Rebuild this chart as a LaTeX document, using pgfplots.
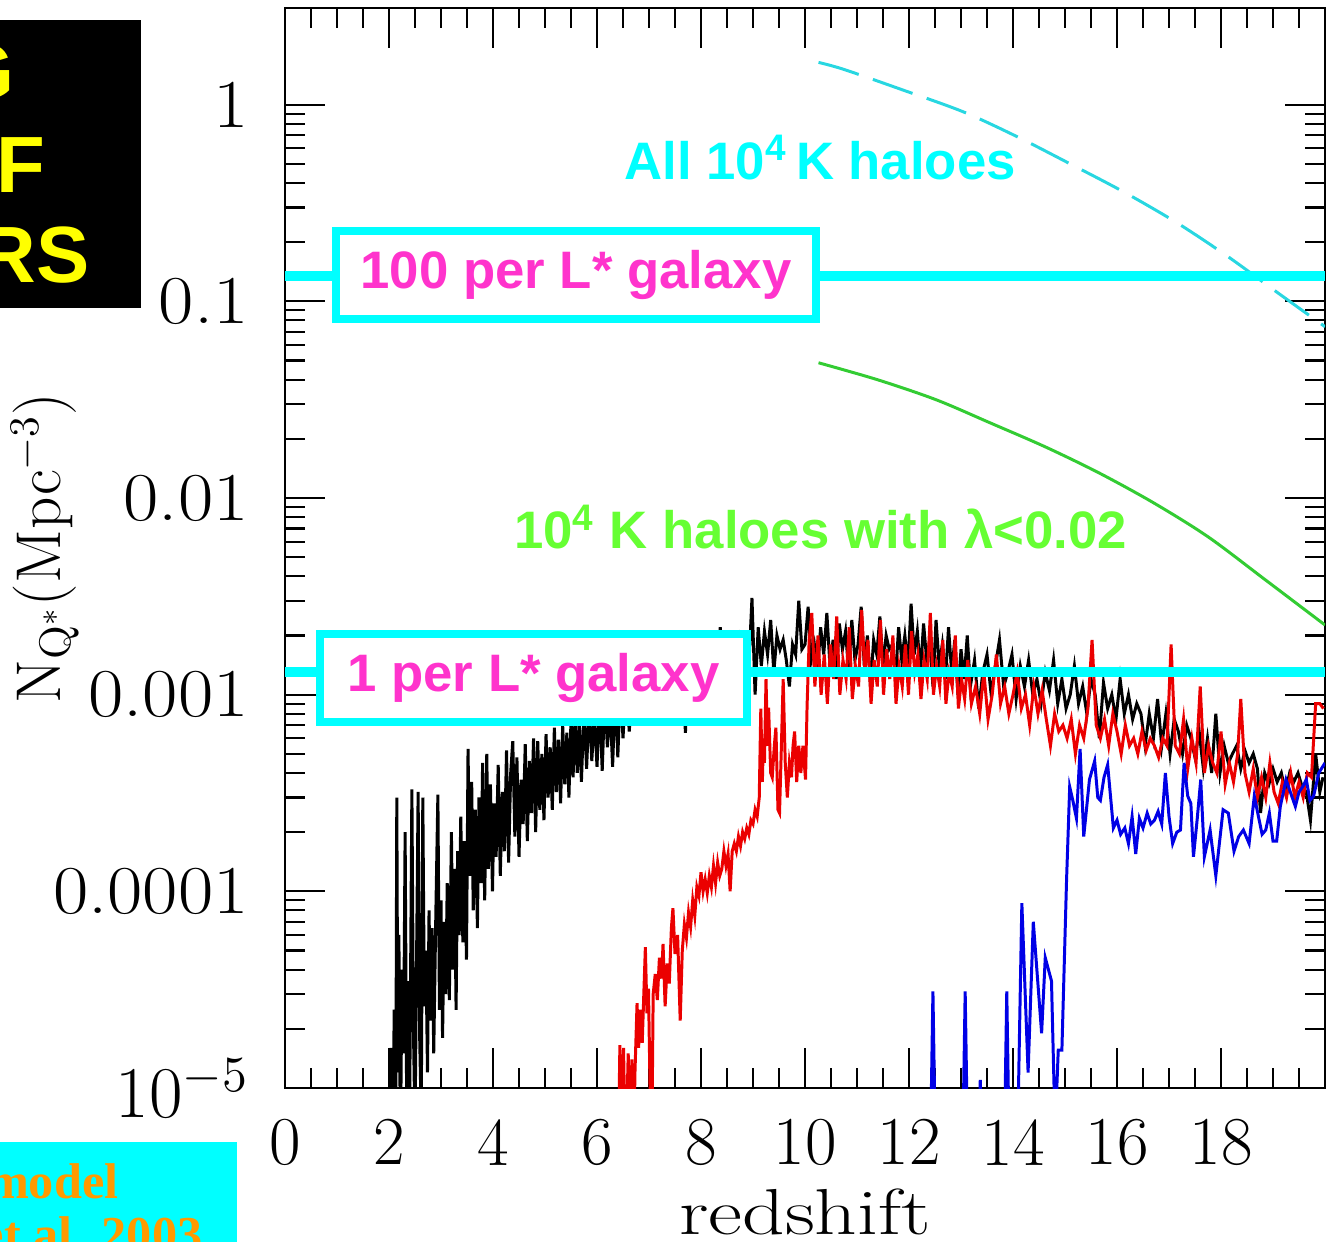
\documentclass[border=0pt]{standalone}
\usepackage{fontspec}
\usepackage{graphicx}
\usepackage{pgfplots}
\pgfplotsset{compat=1.18}
\newfontfamily\lsans{Liberation Sans}
\newfontfamily\lserif{Liberation Serif}
\newcommand{\wide}[1]{\scalebox{1.12}[1]{#1}}

\definecolor{cybox}{RGB}{0,255,255}
\definecolor{magtxt}{RGB}{255,51,204}
\definecolor{grtxt}{RGB}{102,255,51}
\definecolor{grline}{RGB}{51,204,51}
\definecolor{cydash}{RGB}{40,215,225}
\definecolor{rline}{RGB}{235,0,0}
\definecolor{bline}{RGB}{0,0,230}
\definecolor{ylw}{RGB}{255,255,0}
\definecolor{orng}{RGB}{255,153,0}

\begin{document}
\begin{tikzpicture}
\path[use as bounding box] (0,0) rectangle (133.2mm,124.1mm);

% slide leftovers at the left edge (page pixel coordinates)
\begin{scope}[x=0.1mm,y=-0.1mm,yshift=124.1mm]
  \fill[black] (-100,20) rectangle (141,308);
  \begin{scope}[every node/.style={anchor=base east, inner sep=0, text=ylw,
      font=\lsans\bfseries\fontsize{22.7}{27}\selectfont}]
    \node at (15,100) {G};
    \node at (46,193) {F};
    \node at (90,283) {RS};
  \end{scope}
  \fill[cybox] (-100,1142) rectangle (237,1400);
  \begin{scope}[every node/.style={anchor=base east, inner sep=0, text=orng,
      font=\lserif\bfseries\fontsize{14.3}{17}\selectfont}]
    \node at (119,1198) {model};
    \node at (203,1251) {et al. 2003};
  \end{scope}
\end{scope}

\begin{axis}[
    at={(28.5mm,15.3mm)}, anchor=south west,
    scale only axis, width=104mm, height=108mm,
    xmin=0, xmax=20,
    ymode=log, ymin=1e-5, ymax=3.1,
    xtick={0,2,...,20},
    xticklabels={0,2,4,6,8,10,12,14,16,18,{}},
    minor x tick num=3,
    ytick={1e-5,1e-4,1e-3,1e-2,1e-1,1},
    yticklabels={$10^{-5}$,\wide{0.0001},\wide{0.001},\wide{0.01},\wide{0.1},\wide{1}},
    tick align=inside,
    major tick length=4mm, minor tick length=2mm,
    axis line style={line width=0.6pt},
    every tick/.style={black, line width=0.6pt},
    ticklabel style={font=\fontsize{19.5}{24}\selectfont},
    xticklabel style={yshift=-1.9mm},
    yticklabel style={xshift=-2.4mm},
    xlabel={\scalebox{1.28}[1]{redshift}},
    ylabel={N$_{\mathrm{Q}^*}$(Mpc$^{-3}$)},
    every axis x label/.style={at={(axis description cs:0.5,-0.1150)}, anchor=center,
      font=\fontsize{18.5}{22}\selectfont},
    every axis y label/.style={at={(axis description cs:-0.2308,0.5)}, rotate=90, anchor=center,
      font=\fontsize{18}{22}\selectfont},
]

% all 10^4 K haloes
\addplot[cydash, line width=0.85pt, dash pattern=on 4.2mm off 1.5mm, smooth] coordinates {
 (10.26,1.64) (10.75,1.51) (11.87,1.19) (13.04,0.92) (14.08,0.687) (15.13,0.495)
 (16.12,0.361) (17.15,0.251) (18.13,0.169) (19.06,0.112) (20.0,0.0743)
};

% 10^4 K haloes with lambda < 0.02
\addplot[grline, line width=0.85pt, smooth] coordinates {
 (10.26,0.0487) (11.40,0.0399) (12.52,0.0316) (13.56,0.0241) (14.62,0.0182)
 (15.65,0.01343) (16.70,0.00946) (17.75,0.00635) (18.85,0.00384) (20.0,0.00226)
};

% black
\addplot[black, line width=0.85pt] coordinates {
 (2.00,3e-6) (2.04,1.6e-5) (2.07,4e-6) (2.10,2.5e-5) (2.13,6e-6) (2.15,3.0e-4)
 (2.17,1.2e-5) (2.19,6.0e-5) (2.22,5e-6) (2.25,4.0e-5) (2.28,1.5e-5) (2.31,2.0e-4)
 (2.34,8e-6) (2.37,3.5e-5) (2.40,1.0e-5) (2.44,3.3e-4) (2.47,2.0e-5) (2.50,6e-6)
 (2.53,4.5e-5) (2.56,3.2e-4) (2.59,1.8e-5) (2.62,7e-6) (2.65,3.0e-4) (2.68,2.6e-5)
 (2.71,5.0e-5) (2.74,1.2e-5) (2.77,8.0e-5) (2.80,2.2e-5) (2.83,6.5e-5) (2.86,1.5e-5)
 (2.90,7.5e-5) (2.94,3.1e-4) (2.97,2.5e-5) (3.00,9.0e-5) (3.03,1.8e-5) (3.06,7.0e-5)
 (3.09,3.0e-5) (3.12,1.1e-4) (3.16,2.8e-5) (3.20,2.0e-4) (3.23,4.0e-5) (3.26,1.3e-4)
 (3.29,2.5e-5) (3.32,1.6e-4) (3.35,6.0e-5) (3.38,2.4e-4) (3.42,5.5e-5) (3.45,1.8e-4)
 (3.49,4.5e-5) (3.52,5.3e-4) (3.55,1.2e-4) (3.59,3.6e-4) (3.62,8.0e-5) (3.66,2.6e-4)
 (3.70,6.5e-5) (3.73,3.0e-4) (3.77,1.1e-4) (3.80,4.5e-4) (3.84,9.0e-5) (3.88,5.0e-4)
 (3.91,1.3e-4) (3.95,3.5e-4) (3.99,1.0e-4) (4.02,2.8e-4) (4.06,1.5e-4) (4.10,4.4e-4)
 (4.14,1.2e-4) (4.18,3.2e-4) (4.22,1.6e-4) (4.26,5.2e-4) (4.30,1.4e-4) (4.34,4.0e-4)
 (4.38,5.8e-4) (4.42,1.9e-4) (4.46,4.8e-4) (4.50,1.5e-4) (4.54,3.7e-4) (4.58,2.2e-4)
 (4.62,5.6e-4) (4.66,1.8e-4) (4.70,4.6e-4) (4.74,2.5e-4) (4.78,6.0e-4) (4.82,2.0e-4)
 (4.86,5.8e-4) (4.90,2.6e-4) (4.94,5.0e-4) (4.98,2.3e-4) (5.02,6.3e-4) (5.06,3.0e-4)
 (5.10,5.4e-4) (5.14,2.6e-4) (5.18,6.8e-4) (5.22,3.2e-4) (5.26,5.9e-4) (5.30,2.8e-4)
 (5.34,7.0e-4) (5.38,3.5e-4) (5.42,6.4e-4) (5.46,3.0e-4) (5.50,7.5e-4) (5.54,3.8e-4)
 (5.58,8.0e-4) (5.62,4.0e-4) (5.66,7.2e-4) (5.70,3.6e-4) (5.75,8.5e-4) (5.80,4.2e-4)
 (5.85,9.0e-4) (5.90,4.6e-4) (5.95,8.0e-4) (6.00,4.3e-4) (6.05,9.5e-4) (6.10,4.1e-4)
 (6.15,1.0e-3) (6.20,5.4e-4) (6.25,9.0e-4) (6.30,4.3e-4) (6.35,1.05e-3) (6.40,4.8e-4)
 (6.45,1.1e-3) (6.50,6.0e-4) (6.56,1.2e-3) (6.62,6.5e-4) (6.68,1.15e-3) (6.74,7.0e-4)
 (6.80,1.3e-3) (6.86,7.5e-4) (6.92,1.25e-3) (6.98,8.0e-4) (7.04,1.4e-3) (7.10,8.5e-4)
 (7.16,1.3e-3) (7.22,8.0e-4) (7.28,1.5e-3) (7.34,9.0e-4) (7.40,1.4e-3) (7.46,8.5e-4)
 (7.52,1.6e-3) (7.58,9.5e-4) (7.64,1.5e-3) (7.70,6.4e-4) (7.76,1.4e-3) (7.82,1.0e-3)
 (7.88,1.7e-3) (7.94,1.0e-3) (8.00,1.6e-3) (8.06,1.1e-3) (8.12,1.8e-3) (8.18,1.1e-3)
 (8.24,1.7e-3) (8.30,1.2e-3) (8.37,2.2e-3) (8.43,1.2e-3) (8.50,1.8e-3) (8.56,1.3e-3)
 (8.62,1.9e-3) (8.68,1.2e-3) (8.74,1.8e-3) (8.80,1.3e-3) (8.86,2.0e-3) (8.92,1.4e-3)
 (8.98,3.1e-3) (9.04,1.0e-3) (9.10,2.2e-3) (9.16,1.4e-3) (9.22,2.1e-3) (9.28,1.6e-3)
 (9.34,2.4e-3) (9.40,1.3e-3) (9.46,2.0e-3) (9.52,1.7e-3) (9.58,1.9e-3) (9.64,1.5e-3)
 (9.70,1.1e-3) (9.76,1.8e-3) (9.82,1.6e-3) (9.88,3.0e-3) (9.94,1.7e-3) (10.00,1.8e-3)
 (10.06,2.8e-3) (10.12,1.5e-3) (10.18,1.8e-3) (10.24,1.3e-3) (10.30,2.2e-3) (10.36,1.6e-3)
 (10.42,2.6e-3) (10.48,1.4e-3) (10.54,1.9e-3) (10.60,1.2e-3) (10.66,2.3e-3) (10.72,1.7e-3)
 (10.78,2.1e-3) (10.84,1.3e-3) (10.90,2.4e-3) (10.96,1.5e-3) (11.02,1.8e-3) (11.08,2.8e-3)
 (11.14,1.4e-3) (11.20,2.0e-3) (11.26,1.1e-3) (11.32,1.9e-3) (11.38,1.6e-3) (11.44,2.5e-3)
 (11.50,1.4e-3) (11.56,2.0e-3) (11.62,1.7e-3) (11.68,1.8e-3) (11.74,1.2e-3) (11.80,2.2e-3)
 (11.86,1.5e-3) (11.92,2.0e-3) (11.98,1.4e-3) (12.04,2.9e-3) (12.10,1.6e-3) (12.16,2.1e-3)
 (12.22,1.3e-3) (12.28,2.3e-3) (12.34,1.5e-3) (12.40,1.9e-3) (12.46,1.1e-3) (12.52,2.4e-3)
 (12.58,1.4e-3) (12.64,1.8e-3) (12.70,1.2e-3) (12.76,2.2e-3) (12.82,1.3e-3) (12.88,1.9e-3)
 (12.94,1.0e-3) (13.00,1.7e-3) (13.06,1.2e-3) (13.12,2.0e-3) (13.18,1.1e-3) (13.26,1.5e-3)
 (13.34,0.85e-3) (13.42,1.3e-3) (13.50,1.6e-3) (13.58,1.0e-3) (13.66,1.4e-3) (13.74,1.9e-3)
 (13.82,1.1e-3) (13.90,1.3e-3) (13.98,1.6e-3) (14.06,0.95e-3) (14.14,1.4e-3) (14.22,1.1e-3)
 (14.30,1.5e-3) (14.38,1.0e-3) (14.46,1.2e-3) (14.54,0.9e-3) (14.62,1.3e-3) (14.70,1.05e-3)
 (14.78,1.5e-3) (14.86,0.9e-3) (14.94,1.2e-3) (15.02,0.85e-3) (15.10,1.0e-3) (15.18,1.4e-3)
 (15.26,0.9e-3) (15.34,1.1e-3) (15.42,0.8e-3) (15.50,1.2e-3) (15.58,1.0e-3) (15.66,0.6e-3)
 (15.74,1.15e-3) (15.82,0.85e-3) (15.90,1.0e-3) (15.98,0.75e-3) (16.06,1.2e-3) (16.14,0.8e-3)
 (16.22,1.0e-3) (16.30,0.75e-3) (16.38,0.9e-3) (16.46,0.8e-3) (16.54,0.55e-3) (16.62,0.8e-3)
 (16.70,0.6e-3) (16.78,0.95e-3) (16.86,0.55e-3) (16.94,0.8e-3) (17.02,0.5e-3) (17.10,0.75e-3)
 (17.18,0.65e-3) (17.26,0.5e-3) (17.34,0.7e-3) (17.42,0.6e-3) (17.50,0.48e-3) (17.58,0.65e-3)
 (17.66,0.42e-3) (17.74,0.6e-3) (17.82,0.4e-3) (17.90,0.8e-3) (17.98,0.4e-3) (18.06,0.55e-3)
 (18.14,0.45e-3) (18.22,0.5e-3) (18.30,0.55e-3) (18.38,0.42e-3) (18.46,0.52e-3) (18.54,0.45e-3)
 (18.62,0.5e-3) (18.70,0.42e-3) (18.76,0.25e-3) (18.84,0.4e-3) (18.92,0.35e-3) (19.00,0.42e-3)
 (19.08,0.36e-3) (19.16,0.4e-3) (19.24,0.32e-3) (19.32,0.4e-3) (19.40,0.36e-3) (19.48,0.4e-3)
 (19.56,0.34e-3) (19.64,0.32e-3) (19.72,0.23e-3) (19.82,0.5e-3) (19.90,0.32e-3) (19.96,0.38e-3)
};

% red
\addplot[rline, line width=0.85pt] coordinates {
 (6.40,3e-6) (6.44,1.65e-5) (6.47,4e-6) (6.51,1.6e-5) (6.55,4e-6) (6.60,1.5e-5)
 (6.64,5e-6) (6.67,1.4e-5) (6.70,4e-6) (6.73,1.2e-5) (6.77,2.7e-5) (6.80,1.6e-5)
 (6.83,2.5e-5) (6.87,1.7e-5) (6.90,3.0e-5) (6.93,5.2e-5) (6.96,2.4e-5) (6.99,3.2e-5)
 (7.02,1.0e-5) (7.05,4e-6) (7.08,3.0e-5) (7.12,3.8e-5) (7.16,2.8e-5) (7.20,4.6e-5)
 (7.24,3.6e-5) (7.27,5.4e-5) (7.31,2.6e-5) (7.35,4.3e-5) (7.39,3.4e-5) (7.43,6.5e-5)
 (7.46,8.2e-5) (7.50,4.8e-5) (7.55,6.0e-5) (7.60,2.2e-5) (7.64,5.0e-5) (7.68,6.8e-5)
 (7.72,5.8e-5) (7.76,7.8e-5) (7.80,6.6e-5) (7.84,9.0e-5) (7.88,7.5e-5) (7.92,1.05e-4)
 (7.96,9.5e-5) (8.00,1.25e-4) (8.04,1.0e-4) (8.08,1.15e-4) (8.12,9.8e-5) (8.16,1.2e-4)
 (8.20,1.05e-4) (8.24,1.35e-4) (8.28,1.1e-4) (8.32,1.4e-4) (8.36,1.2e-4) (8.40,1.3e-4)
 (8.44,1.6e-4) (8.48,1.35e-4) (8.52,1.55e-4) (8.56,1.0e-4) (8.60,1.6e-4) (8.64,1.75e-4)
 (8.68,1.6e-4) (8.72,1.9e-4) (8.76,1.7e-4) (8.80,2.0e-4) (8.84,1.85e-4) (8.88,2.1e-4)
 (8.92,1.95e-4) (8.96,2.3e-4) (9.00,2.2e-4) (9.04,2.6e-4) (9.08,2.4e-4) (9.12,3.0e-4)
 (9.15,8.5e-4) (9.18,3.6e-4) (9.20,6.0e-4) (9.22,4.5e-4) (9.25,1.2e-3) (9.28,5.5e-4)
 (9.30,8.6e-4) (9.34,4.0e-4) (9.37,3.8e-4) (9.41,5.5e-4) (9.44,6.8e-4) (9.48,2.6e-4)
 (9.51,2.5e-4) (9.55,6.0e-4) (9.58,1.2e-3) (9.62,4.5e-4) (9.66,3.0e-4) (9.70,4.5e-4)
 (9.74,3.8e-4) (9.77,5.5e-4) (9.80,6.5e-4) (9.84,3.6e-4) (9.88,5.5e-4) (9.92,4.0e-4)
 (9.96,5.5e-4) (10.01,3.7e-4) (10.04,8.8e-4) (10.08,1.9e-3) (10.13,2.6e-3) (10.19,1.1e-3)
 (10.25,2.0e-3) (10.31,1.0e-3) (10.37,1.6e-3) (10.43,0.9e-3) (10.49,1.8e-3) (10.55,1.2e-3)
 (10.61,2.5e-3) (10.67,1.0e-3) (10.73,1.5e-3) (10.79,1.2e-3) (10.85,2.2e-3) (10.91,0.95e-3)
 (10.97,1.4e-3) (11.03,1.1e-3) (11.09,2.7e-3) (11.15,1.3e-3) (11.21,1.9e-3) (11.27,0.9e-3)
 (11.33,1.5e-3) (11.39,1.1e-3) (11.45,2.4e-3) (11.51,1.0e-3) (11.57,1.7e-3) (11.63,1.2e-3)
 (11.69,2.0e-3) (11.75,0.9e-3) (11.81,1.4e-3) (11.87,1.1e-3) (11.93,1.8e-3) (11.99,1.0e-3)
 (12.05,2.1e-3) (12.11,1.3e-3) (12.17,1.6e-3) (12.23,0.95e-3) (12.29,1.5e-3) (12.35,1.2e-3)
 (12.41,2.6e-3) (12.47,1.0e-3) (12.53,1.4e-3) (12.59,1.1e-3) (12.65,1.9e-3) (12.71,0.9e-3)
 (12.77,1.3e-3) (12.83,1.1e-3) (12.89,2.0e-3) (12.95,0.85e-3) (13.01,1.2e-3) (13.07,0.95e-3)
 (13.13,1.5e-3) (13.20,0.9e-3) (13.28,1.1e-3) (13.36,0.8e-3) (13.44,1.3e-3) (13.52,0.75e-3)
 (13.60,1.0e-3) (13.68,1.6e-3) (13.76,0.9e-3) (13.84,1.1e-3) (13.92,0.8e-3) (14.00,1.0e-3)
 (14.08,1.3e-3) (14.16,0.85e-3) (14.24,1.0e-3) (14.32,0.7e-3) (14.40,1.1e-3) (14.48,0.8e-3)
 (14.56,1.05e-3) (14.64,0.75e-3) (14.72,0.55e-3) (14.80,0.8e-3) (14.88,0.65e-3) (14.96,0.7e-3)
 (15.04,0.6e-3) (15.12,0.75e-3) (15.20,0.5e-3) (15.28,0.7e-3) (15.36,0.6e-3) (15.44,0.85e-3)
 (15.52,1.9e-3) (15.60,0.7e-3) (15.68,0.6e-3) (15.76,0.75e-3) (15.84,0.55e-3) (15.92,0.8e-3)
 (16.00,0.65e-3) (16.08,0.5e-3) (16.16,0.7e-3) (16.24,0.55e-3) (16.32,0.6e-3) (16.40,0.5e-3)
 (16.48,0.65e-3) (16.56,0.52e-3) (16.64,0.6e-3) (16.72,0.55e-3) (16.80,0.48e-3) (16.88,0.6e-3)
 (16.96,0.55e-3) (17.04,1.8e-3) (17.12,0.55e-3) (17.20,0.5e-3) (17.28,0.75e-3) (17.36,0.42e-3)
 (17.44,0.6e-3) (17.52,0.45e-3) (17.60,1.1e-3) (17.68,0.4e-3) (17.76,0.55e-3) (17.84,0.45e-3)
 (17.92,0.4e-3) (18.00,0.65e-3) (18.08,0.35e-3) (18.16,0.45e-3) (18.24,0.36e-3) (18.32,0.5e-3)
 (18.38,0.95e-3) (18.46,0.4e-3) (18.54,0.32e-3) (18.62,0.42e-3) (18.70,0.3e-3) (18.78,0.38e-3)
 (18.86,0.3e-3) (18.94,0.45e-3) (19.02,0.32e-3) (19.10,0.28e-3) (19.18,0.36e-3) (19.26,0.3e-3)
 (19.34,0.4e-3) (19.42,0.3e-3) (19.50,0.36e-3) (19.58,0.3e-3) (19.66,0.4e-3) (19.74,0.38e-3)
 (19.82,0.9e-3) (19.90,0.9e-3) (19.97,0.85e-3)
};

% blue
\addplot[bline, line width=0.85pt] coordinates {
 (12.00,3e-6) (12.40,3e-6) (12.46,3.1e-5) (12.52,3e-6) (13.02,3e-6) (13.08,3.1e-5)
 (13.14,3e-6) (13.34,3e-6) (13.37,1.1e-5) (13.40,3e-6) (13.82,3e-6) (13.88,3.1e-5)
 (13.94,3e-6) (14.07,3e-6) (14.17,8.7e-5) (14.29,1.2e-5) (14.39,7.0e-5) (14.55,1.9e-5)
 (14.62,4.6e-5) (14.74,3.5e-5) (14.81,6e-6) (14.87,1.56e-5) (14.94,1.56e-5) (15.03,1.15e-4)
 (15.09,3.4e-4) (15.15,2.9e-4) (15.22,2.35e-4) (15.29,5.3e-4) (15.36,1.9e-4) (15.47,3.7e-4)
 (15.57,4.6e-4) (15.63,3.0e-4) (15.68,2.9e-4) (15.75,3.8e-4) (15.82,4.4e-4) (15.93,2.1e-4)
 (16.00,2.3e-4) (16.07,1.95e-4) (16.15,2.1e-4) (16.22,1.75e-4) (16.29,2.4e-4) (16.36,1.55e-4)
 (16.43,2.35e-4) (16.50,2.1e-4) (16.58,2.5e-4) (16.65,2.2e-4) (16.72,2.3e-4) (16.79,2.55e-4)
 (16.86,2.2e-4) (16.93,4.0e-4) (17.00,2.4e-4) (17.07,1.75e-4) (17.15,2.0e-4) (17.22,2.05e-4)
 (17.29,4.5e-4) (17.36,3.05e-4) (17.42,2.8e-4) (17.47,1.5e-4) (17.54,2.3e-4) (17.61,3.7e-4)
 (17.68,1.5e-4) (17.79,2.05e-4) (17.90,1.2e-4) (18.04,2.6e-4) (18.14,2.5e-4) (18.25,1.6e-4)
 (18.34,1.9e-4) (18.43,2.05e-4) (18.54,1.75e-4) (18.64,3.05e-4) (18.72,2.4e-4) (18.79,1.95e-4)
 (18.86,2.05e-4) (18.93,2.5e-4) (19.00,1.8e-4) (19.07,1.8e-4) (19.14,2.7e-4) (19.25,3.7e-4)
 (19.36,3.05e-4) (19.43,2.7e-4) (19.50,3.2e-4) (19.57,3.4e-4) (19.64,3.7e-4) (19.71,2.9e-4)
 (19.78,3.05e-4) (19.88,4.0e-4) (20.00,4.5e-4)
};

% number densities of 100 and 1 per L* galaxy
\addplot[cybox, line width=1mm] coordinates {(0,0.135) (20,0.135)};
\addplot[cybox, line width=1mm] coordinates {(0,0.001306) (20,0.001306)};

\node[draw=cybox, line width=0.8mm, fill=white, minimum width=48mm, minimum height=8.8mm, inner sep=0]
  at (axis cs:5.596,0.1366) {};
\node[text=magtxt, font=\lsans\bfseries\fontsize{15}{18}\selectfont, inner sep=0]
  at (axis cs:5.596,0.1366) {100 per L* galaxy};
\node[draw=cybox, line width=0.8mm, fill=white, minimum width=42.7mm, minimum height=8.8mm, inner sep=0]
  at (axis cs:4.779,0.001217) {};
\node[text=magtxt, font=\lsans\bfseries\fontsize{15}{18}\selectfont, inner sep=0]
  at (axis cs:4.779,0.001217) {1 per L* galaxy};

\node[text=cybox, font=\lsans\bfseries\fontsize{15}{18}\selectfont]
  at (axis cs:10.29,0.5375) {All 10\textsuperscript{4}\,K haloes};
\node[text=grtxt, font=\lsans\bfseries\fontsize{15}{18}\selectfont]
  at (axis cs:10.30,0.00714) {10\textsuperscript{4} K haloes with λ<0.02};

\end{axis}
\end{tikzpicture}
\end{document}
